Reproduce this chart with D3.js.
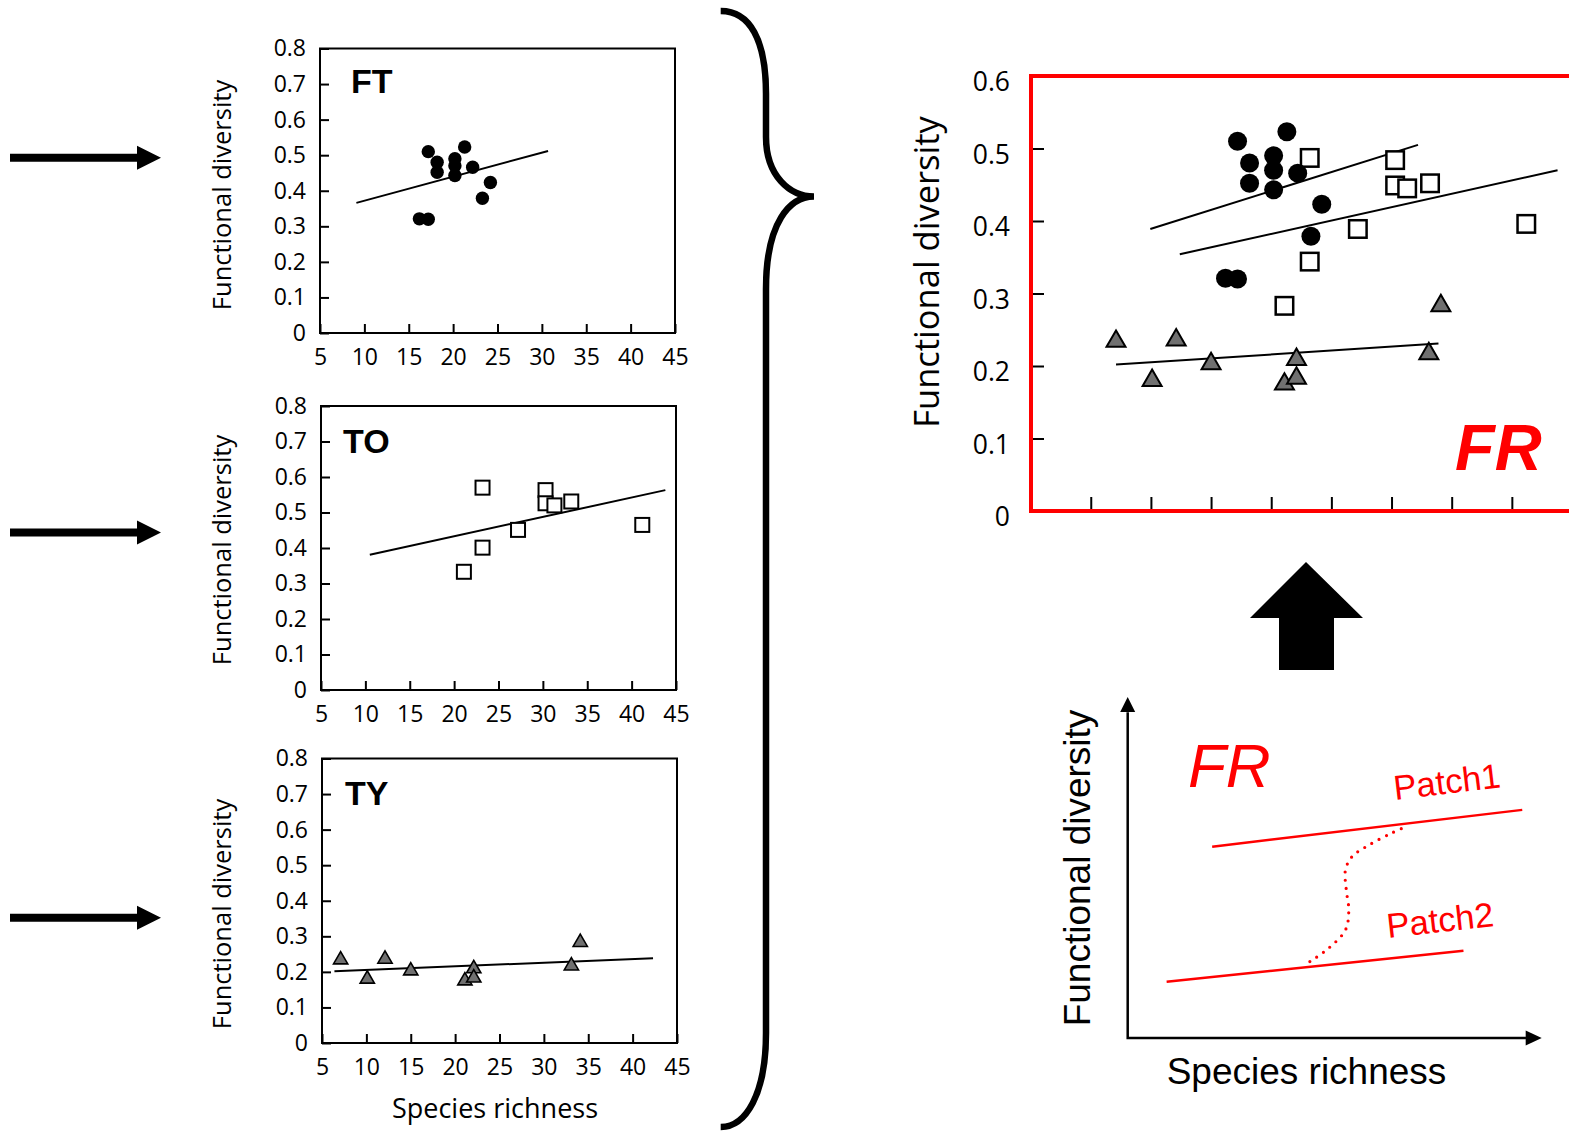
<!DOCTYPE html>
<html>
<head>
<meta charset="utf-8">
<script src="https://cdn.jsdelivr.net/npm/d3@7/dist/d3.min.js"></script>
<style>
  html, body { margin: 0; padding: 0; background: #fff; }
  svg { display: block; }
</style>
</head>
<body>
<svg id="fig" width="1569" height="1131"></svg>
<script>
// ---- data -------------------------------------------------------------
const smallXTicks = [5, 10, 15, 20, 25, 30, 35, 40, 45];
const smallYTicks = [0, 0.1, 0.2, 0.3, 0.4, 0.5, 0.6, 0.7, 0.8];
const bigXTicks = [5, 10, 15, 20, 25, 30, 35, 40];
const bigYTicks = [0, 0.1, 0.2, 0.3, 0.4, 0.5, 0.6];

// FT site (filled circles)
const ftRichness = [17.2, 18.2, 18.2, 20.2, 20.2, 20.2, 21.3, 22.2, 24.2, 23.3, 16.2, 17.2];
const ftDiversity = [0.510, 0.480, 0.452, 0.490, 0.470, 0.443, 0.523, 0.466, 0.423, 0.379, 0.321, 0.320];

// TO site (open squares)
const toRichness = [23.2, 23.2, 21.1, 27.2, 30.3, 30.3, 31.3, 33.2, 41.2];
const toDiversity = [0.570, 0.401, 0.333, 0.451, 0.563, 0.526, 0.520, 0.531, 0.465];
// TO values as plotted in the pooled FR panel
const frToDiversity = [0.487, 0.344, 0.283, 0.389, 0.484, 0.449, 0.445, 0.452, 0.396];

// TY site (grey triangles)
const tyRichness = [7.1, 10.1, 12.1, 15.0, 21.1, 22.1, 22.1, 33.1, 34.1];
const tyDiversity = [0.234, 0.180, 0.236, 0.203, 0.175, 0.209, 0.183, 0.217, 0.283];

// regression lines: [start, end] in data units
const ftFitX = [9.1, 30.7],  ftFitY = [0.366, 0.512];
const toFitX = [10.5, 43.8], toFitY = [0.381, 0.563];
const tyFitX = [6.4, 42.3],  tyFitY = [0.202, 0.238];
const frFtFitX = [9.95, 32.2], frFtFitY = [0.389, 0.505];
const frToFitX = [12.4, 43.8], frToFitY = [0.354, 0.470];
const frTyFitX = [7.1, 33.9],  frTyFitY = [0.202, 0.231];

// conceptual sketch (arbitrary 0-10 units on both axes)
const patch1X = [2.04, 9.53], patch1Y = [5.61, 6.69];
const patch2X = [0.94, 8.11], patch2Y = [1.65, 2.56];
const shiftX = [4.40, 4.85, 5.26, 5.34, 5.28, 5.26, 5.42, 5.83, 6.36, 6.72];
const shiftY = [2.24, 2.63, 3.17, 3.75, 4.34, 4.93, 5.32, 5.66, 6.00, 6.20];

// ---- drawing ----------------------------------------------------------
const svg = d3.select("#fig");
svg.append("rect").attr("width", 1569).attr("height", 1131).attr("fill", "#fff");

const NUM_FONT = "'Open Sans', 'DejaVu Sans', sans-serif";
const SANS = "'Liberation Sans', Arial, sans-serif";
const fmtTick = d => (Math.abs(d) < 1e-9 ? "0" : d3.format(".1f")(d));
const zip = (a, b) => a.map((v, i) => [v, b[i]]);

function drawMarkers(g, pts, x, y, kind, s) {
  if (kind === "circle") {
    g.selectAll(null).data(pts).join("circle")
      .attr("cx", d => x(d[0])).attr("cy", d => y(d[1]))
      .attr("r", s.r).attr("fill", "#000");
  } else if (kind === "square") {
    g.selectAll(null).data(pts).join("rect")
      .attr("x", d => x(d[0]) - s.side / 2).attr("y", d => y(d[1]) - s.side / 2)
      .attr("width", s.side).attr("height", s.side)
      .attr("fill", "#fff").attr("stroke", "#000").attr("stroke-width", s.sw);
  } else {
    const sym = d3.symbol(d3.symbolTriangle, s.area);
    g.selectAll(null).data(pts).join("path")
      .attr("transform", d => `translate(${x(d[0])},${y(d[1])})`)
      .attr("d", sym).attr("fill", "#707070")
      .attr("stroke", "#000").attr("stroke-width", s.sw).attr("stroke-linejoin", "miter");
  }
}

function drawFit(g, fx, fy, x, y, w) {
  g.append("path")
    .attr("d", d3.line().x(d => x(d[0])).y(d => y(d[1]))(zip(fx, fy)))
    .attr("stroke", "#000").attr("stroke-width", w).attr("fill", "none");
}

// ---- three site panels --------------------------------------------------
const panels = [
  { name: "FT", left: 320, right: 675, top: 48.5, bottom: 333, kind: "circle",
    xs: ftRichness, ys: ftDiversity, fx: ftFitX, fy: ftFitY, labelX: 351, labelY: 93, titleY: 195 },
  { name: "TO", left: 321, right: 676, top: 406, bottom: 690, kind: "square",
    xs: toRichness, ys: toDiversity, fx: toFitX, fy: toFitY, labelX: 343, labelY: 453, titleY: 550 },
  { name: "TY", left: 322, right: 677, top: 758.5, bottom: 1043, kind: "triangle",
    xs: tyRichness, ys: tyDiversity, fx: tyFitX, fy: tyFitY, labelX: 345, labelY: 805, titleY: 914 }
];

panels.forEach(p => {
  const g = svg.append("g");
  const x = d3.scaleLinear().domain([5, 45]).range([p.left, p.right]);
  const y = d3.scaleLinear().domain([0, 0.8]).range([p.bottom, p.top]);

  const ax = g.append("g").attr("transform", `translate(${p.left},0)`)
    .call(d3.axisLeft(y).tickValues(smallYTicks).tickFormat(fmtTick).tickSize(-9).tickPadding(14));
  const bx = g.append("g").attr("transform", `translate(0,${p.bottom})`)
    .call(d3.axisBottom(x).tickValues(smallXTicks).tickFormat(d3.format("d")).tickSize(-9).tickPadding(16));
  [ax, bx].forEach(a => {
    a.select(".domain").remove();
    a.selectAll("line").attr("stroke", "#000").attr("stroke-width", 2);
    a.selectAll("text").attr("font-family", NUM_FONT).attr("font-size", 23).attr("fill", "#000");
  });

  g.append("rect").attr("x", p.left).attr("y", p.top)
    .attr("width", p.right - p.left).attr("height", p.bottom - p.top)
    .attr("fill", "none").attr("stroke", "#000").attr("stroke-width", 2);

  drawFit(g, p.fx, p.fy, x, y, 2);
  const style = p.kind === "circle" ? { r: 6.7 }
              : p.kind === "square" ? { side: 14, sw: 2 }
              : { area: 88, sw: 1.6 };
  drawMarkers(g, zip(p.xs, p.ys), x, y, p.kind, style);

  g.append("text").attr("x", p.labelX).attr("y", p.labelY)
    .attr("font-family", SANS).attr("font-weight", "bold").attr("font-size", 34)
    .text(p.name);

  g.append("text")
    .attr("transform", `translate(222,${p.titleY}) rotate(-90)`)
    .attr("text-anchor", "middle").attr("dy", "0.35em")
    .attr("font-family", NUM_FONT).attr("font-size", 25.5).text("Functional diversity");
});

svg.append("text").attr("x", 495).attr("y", 1118).attr("text-anchor", "middle")
  .attr("font-family", NUM_FONT).attr("font-size", 27).text("Species richness");

// ---- arrows from the site panels -----------------------------------------
[157.7, 532.5, 917.7].forEach(cy => {
  svg.append("path")
    .attr("d", `M10,${cy - 4}H137V${cy - 12}L161,${cy}L137,${cy + 12}V${cy + 4}H10Z`)
    .attr("fill", "#000");
});

// ---- brace ---------------------------------------------------------------
svg.append("path")
  .attr("d", "M720.7,11 C750,11 766,40 766,94 L766,137 C766,176 790,196.5 814,196.5" +
             " C790,196.5 766,222 766,289 L766,1033 C766,1094 746,1127 720.7,1127")
  .attr("fill", "none").attr("stroke", "#000").attr("stroke-width", 6.5)
  .attr("stroke-linecap", "butt");

// ---- pooled FR panel -----------------------------------------------------
{
  const g = svg.append("g");
  const x = d3.scaleLinear().domain([0, 45]).range([1030.6, 1572]);
  const y = d3.scaleLinear().domain([0, 0.6]).range([511, 76]);

  const ax = g.append("g").attr("transform", "translate(1031,0)")
    .call(d3.axisLeft(y).tickValues(bigYTicks).tickFormat(fmtTick).tickSize(-13).tickPadding(21));
  ax.select(".domain").remove();
  ax.selectAll("line").attr("stroke", "#000").attr("stroke-width", 2)
    .attr("opacity", d => (d > 0.01 && d < 0.59 ? 1 : 0));
  ax.selectAll("text").attr("font-family", NUM_FONT).attr("font-size", 26.5)
    .attr("fill", "#000").attr("transform", "translate(0,6.5)");

  const bx = g.append("g").attr("transform", "translate(0,511)")
    .call(d3.axisBottom(x).tickValues(bigXTicks).tickFormat("").tickSize(-14));
  bx.select(".domain").remove();
  bx.selectAll("line").attr("stroke", "#000").attr("stroke-width", 2);

  g.append("rect").attr("x", 1031).attr("y", 76).attr("width", 620).attr("height", 435)
    .attr("fill", "none").attr("stroke", "#ff0000").attr("stroke-width", 4);

  drawFit(g, frFtFitX, frFtFitY, x, y, 2);
  drawFit(g, frToFitX, frToFitY, x, y, 2);
  drawFit(g, frTyFitX, frTyFitY, x, y, 2);

  drawMarkers(g, zip(tyRichness, tyDiversity), x, y, "triangle", { area: 156, sw: 2 });
  drawMarkers(g, zip(toRichness, frToDiversity), x, y, "square", { side: 17.5, sw: 2.5 });
  drawMarkers(g, zip(ftRichness, ftDiversity), x, y, "circle", { r: 9.5 });

  g.append("text").attr("x", 1455).attr("y", 470)
    .attr("font-family", SANS).attr("font-weight", "bold").attr("font-style", "italic")
    .attr("font-size", 65).attr("fill", "#ff0000").text("FR");

  g.append("text").attr("transform", "translate(927,272) rotate(-90)")
    .attr("text-anchor", "middle").attr("dy", "0.35em")
    .attr("font-family", NUM_FONT).attr("font-size", 34.5).text("Functional diversity");
}

// ---- block arrow ---------------------------------------------------------
svg.append("path")
  .attr("d", "M1306,562 L1363,618 L1334,618 L1334,670 L1279,670 L1279,618 L1250,618 Z")
  .attr("fill", "#000");

// ---- conceptual sketch ----------------------------------------------------
{
  const g = svg.append("g");
  const sx = d3.scaleLinear().domain([0, 10]).range([1127.7, 1541.7]);
  const sy = d3.scaleLinear().domain([0, 10]).range([1038, 697]);

  g.append("path")
    .attr("d", `M${sx(0)},${sy(9.55)} V${sy(0)} H${sx(9.62)}`)
    .attr("fill", "none").attr("stroke", "#000").attr("stroke-width", 2.5);
  g.append("path")
    .attr("d", `M${sx(0)},${sy(10)} L${sx(0) + 7.5},${sy(10) + 15} L${sx(0) - 7.5},${sy(10) + 15} Z`)
    .attr("fill", "#000");
  g.append("path")
    .attr("d", `M${sx(10)},${sy(0)} L${sx(10) - 16},${sy(0) - 7.5} L${sx(10) - 16},${sy(0) + 7.5} Z`)
    .attr("fill", "#000");

  const red = "#ff0000";
  const ln = d3.line().x(d => sx(d[0])).y(d => sy(d[1]));
  g.append("path").attr("d", ln(zip(patch1X, patch1Y)))
    .attr("stroke", red).attr("stroke-width", 2.5).attr("fill", "none");
  g.append("path").attr("d", ln(zip(patch2X, patch2Y)))
    .attr("stroke", red).attr("stroke-width", 2.5).attr("fill", "none");
  g.append("path").attr("d", ln.curve(d3.curveCatmullRom)(zip(shiftX, shiftY)))
    .attr("stroke", red).attr("stroke-width", 3.2).attr("fill", "none")
    .attr("stroke-linecap", "round").attr("stroke-dasharray", "0 8.2");

  g.append("text").attr("transform", "translate(1395,800) rotate(-6.8)")
    .attr("font-family", SANS).attr("font-size", 34.5).attr("fill", red).text("Patch1");
  g.append("text").attr("transform", "translate(1388,938) rotate(-6.4)")
    .attr("font-family", SANS).attr("font-size", 34.5).attr("fill", red).text("Patch2");

  g.append("text").attr("x", 1188).attr("y", 787)
    .attr("font-family", SANS).attr("font-style", "italic")
    .attr("font-size", 62).attr("fill", red).text("FR");

  g.append("text").attr("transform", "translate(1077,868) rotate(-90)")
    .attr("text-anchor", "middle").attr("dy", "0.35em")
    .attr("font-family", SANS).attr("font-size", 37).text("Functional diversity");
  g.append("text").attr("x", 1306.5).attr("y", 1084).attr("text-anchor", "middle")
    .attr("font-family", SANS).attr("font-size", 37).text("Species richness");
}
</script>
</body>
</html>
